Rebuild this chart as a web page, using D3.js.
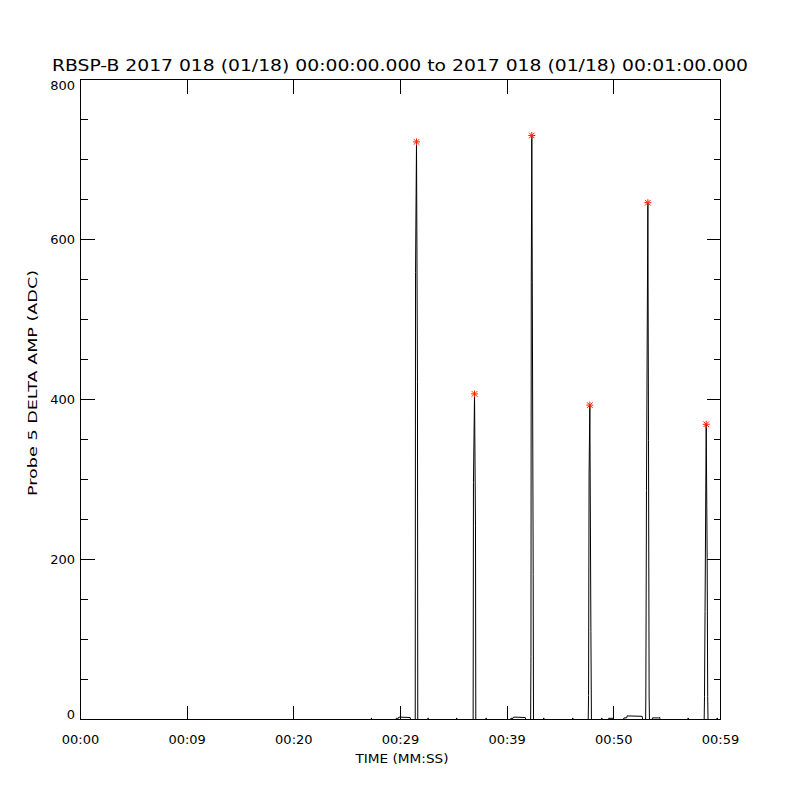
<!DOCTYPE html>
<html>
<head>
<meta charset="utf-8">
<script src="https://cdn.jsdelivr.net/npm/d3@7"></script>
<style>
  body { margin: 0; background: #fff; }
  text { font-family: "DejaVu Sans", sans-serif; fill: #000; }
</style>
</head>
<body>
<div id="myPlot" style="width:800px;height:800px"></div>
<script>
const titleText = "RBSP-B 2017 018 (01/18) 00:00:00.000 to 2017 018 (01/18) 00:01:00.000"
const xTitle = "TIME (MM:SS)"
const yTitle = "Probe 5 DELTA AMP (ADC)"

// seconds from 00:00:00 and probe amplitude (ADC)
const times = [
    0, 27.26, 27.28, 27.30,
    29.55, 29.60, 29.80, 29.85, 30.90, 30.95,
    31.38, 31.41, 31.50, 31.59, 31.62,
    32.57, 32.59, 32.61, 35.25, 35.27, 35.29,
    36.81, 36.84, 36.94, 37.03, 37.06,
    38.01, 38.03, 38.05,
    40.30, 40.35, 40.55, 40.60, 41.70, 41.75,
    42.20, 42.23, 42.26, 42.31, 42.44, 42.47,
    43.41, 43.43, 43.45, 46.13, 46.15, 46.17,
    47.60, 47.63, 47.68, 47.75, 47.85, 47.90,
    48.85, 48.87, 48.89, 49.50, 49.52, 49.95, 49.97,
    50.90, 50.95, 51.20, 51.25, 52.65, 52.70,
    52.98, 53.00, 53.06, 53.19, 53.25, 53.31, 53.34,
    53.60, 53.62, 54.20, 54.31, 54.33,
    56.95, 56.97, 56.99,
    58.47, 58.50, 58.55, 58.66, 58.75, 58.80, 58.83,
    59.67, 59.69, 59.71, 60
]
const amps = [
    0, 0, 2, 0,
    0, 1.5, 1.5, 3, 2.5, 0,
    0, 559, 722, 422, 0,
    0, 2, 0, 0, 2, 0,
    0, 296, 407, 242, 0,
    0, 2, 0,
    0, 1.5, 1.5, 3, 2.5, 0,
    0, 79, 546, 730, 181, 0,
    0, 2, 0, 0, 2, 0,
    0, 30, 307, 393, 110, 0,
    0, 2, 0, 0, 1.5, 1.5, 0,
    0, 2, 2, 4.5, 4, 0,
    0, 28, 286, 646, 349, 28, 0,
    0, 2, 2, 2.5, 0,
    0, 2, 0,
    0, 29, 135, 369, 201, 29, 0,
    0, 2, 0, 0
]

const xTickValues = [0, 10, 20, 30, 40, 50, 60]
const xTickLabels = ["00:00", "00:09", "00:20", "00:29", "00:39", "00:50", "00:59"]
const yTickValues = [0, 200, 400, 600, 800]
const yMinorValues = [50, 100, 150, 250, 300, 350, 450, 500, 550, 650, 700, 750]

const margin = {left: 80.5, right: 720.5, top: 79.5, bottom: 719.5}

const svg = d3.select("#myPlot").append("svg")
    .attr("width", 800)
    .attr("height", 800)

const xScale = d3.scaleLinear().domain([0, 60]).range([margin.left, margin.right])
const yScale = d3.scaleLinear().domain([0, 800]).range([margin.bottom, margin.top])

const points = times.map((t, i) => [t, amps[i]])

// peaks = local maxima of the big spikes
const peaks = points.filter((p, i) => p[1] > 100 && p[1] > amps[i - 1] && p[1] > amps[i + 1])

const line = d3.line()
    .x(d => xScale(d[0]))
    .y(d => yScale(d[1]))

svg.append("path")
    .datum(points)
    .attr("d", line)
    .attr("fill", "none")
    .attr("stroke", "#000")
    .attr("stroke-width", 1)

// frame
svg.append("rect")
    .attr("x", margin.left)
    .attr("y", margin.top)
    .attr("width", margin.right - margin.left)
    .attr("height", margin.bottom - margin.top)
    .attr("fill", "none")
    .attr("stroke", "#000")
    .attr("shape-rendering", "crispEdges")

const majorLen = 14
const minorLen = 7

const ticks = svg.append("g")
    .attr("stroke", "#000")
    .attr("shape-rendering", "crispEdges")

xTickValues.forEach(v => {
    const x = xScale(v)
    ticks.append("line").attr("x1", x).attr("x2", x).attr("y1", margin.bottom).attr("y2", margin.bottom - majorLen)
    ticks.append("line").attr("x1", x).attr("x2", x).attr("y1", margin.top).attr("y2", margin.top + majorLen)
})

yTickValues.concat(yMinorValues).forEach(v => {
    const y = yScale(v)
    const len = yTickValues.includes(v) ? majorLen : minorLen
    ticks.append("line").attr("x1", margin.left).attr("x2", margin.left + len).attr("y1", y).attr("y2", y)
    ticks.append("line").attr("x1", margin.right).attr("x2", margin.right - len).attr("y1", y).attr("y2", y)
})

svg.append("g").selectAll("text")
    .data(xTickValues)
    .join("text")
    .attr("x", d => xScale(d))
    .attr("y", 744)
    .attr("text-anchor", "middle")
    .attr("font-size", 13)
    .text((d, i) => xTickLabels[i])

// end labels sit a little inside the frame, as in the original
svg.append("g").selectAll("text")
    .data(yTickValues)
    .join("text")
    .attr("x", 75)
    .attr("y", d => yScale(d) + 4.5 + (d === 0 ? -5 : d === 800 ? 6 : 0))
    .attr("text-anchor", "end")
    .attr("font-size", 13)
    .text(d => d)

// red asterisks on the peaks
const starG = svg.append("g")
    .attr("stroke", "#ff2200")
    .attr("stroke-width", 1)
peaks.forEach(p => {
    const r = 3.5
    const d = r * 0.8
    const g = starG.append("g")
        .attr("transform", `translate(${xScale(p[0])},${yScale(p[1])})`)
    g.append("line").attr("x1", -r).attr("x2", r).attr("y1", 0).attr("y2", 0)
    g.append("line").attr("x1", 0).attr("x2", 0).attr("y1", -r).attr("y2", r)
    g.append("line").attr("x1", -d).attr("x2", d).attr("y1", -d).attr("y2", d)
    g.append("line").attr("x1", -d).attr("x2", d).attr("y1", d).attr("y2", -d)
})

svg.append("text")
    .attr("x", 400)
    .attr("y", 71)
    .attr("text-anchor", "middle")
    .attr("font-size", 15)
    .attr("textLength", 696)
    .attr("lengthAdjust", "spacingAndGlyphs")
    .text(titleText)

svg.append("text")
    .attr("x", 402)
    .attr("y", 763)
    .attr("text-anchor", "middle")
    .attr("font-size", 13)
    .attr("textLength", 93)
    .attr("lengthAdjust", "spacingAndGlyphs")
    .text(xTitle)

svg.append("text")
    .attr("transform", "translate(37, 383) rotate(-90)")
    .attr("text-anchor", "middle")
    .attr("font-size", 13)
    .attr("textLength", 226)
    .attr("lengthAdjust", "spacingAndGlyphs")
    .text(yTitle)
</script>
</body>
</html>
